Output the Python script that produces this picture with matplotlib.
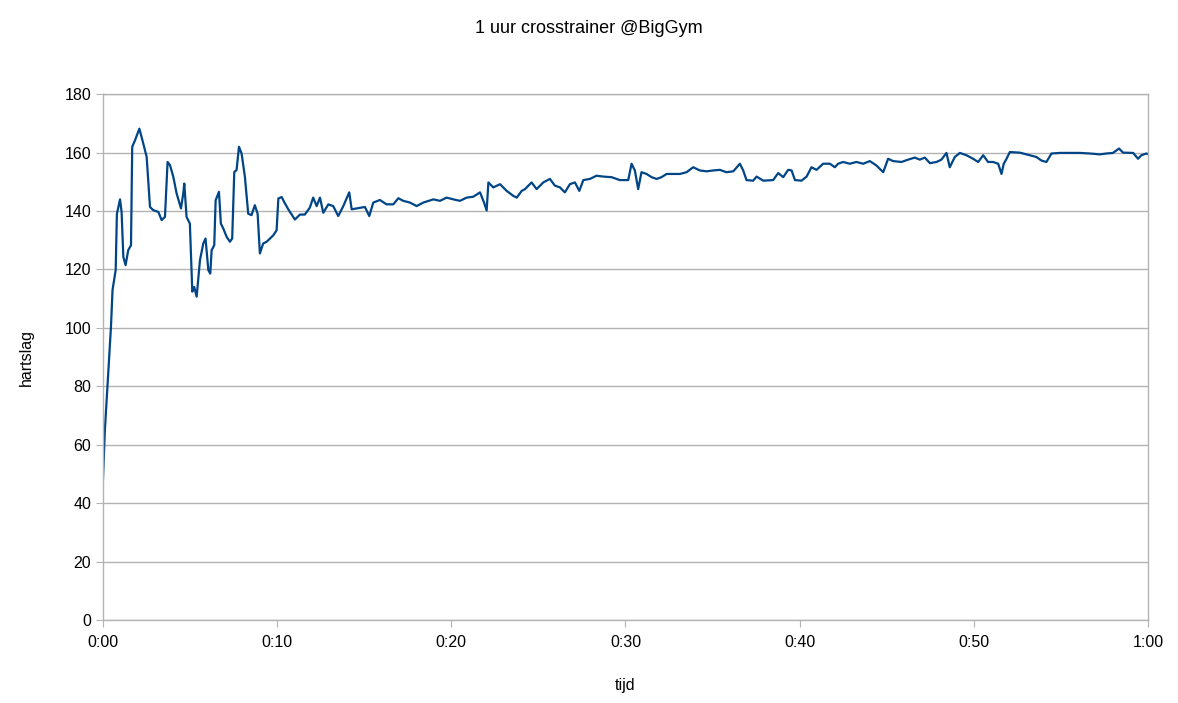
import matplotlib.pyplot as plt

# heart rate trace: time in minutes, beats per minute
minutes = [
    0.00, 0.11, 0.31, 0.46, 0.55, 0.73, 0.80, 0.98, 1.07, 1.17, 1.30, 1.45, 1.61,
    1.68, 1.84, 2.09, 2.32, 2.51, 2.70, 2.89, 3.18, 3.37, 3.56, 3.71, 3.85, 4.04,
    4.23, 4.48, 4.61, 4.67, 4.80, 4.99, 5.13, 5.24, 5.38, 5.57, 5.76, 5.89, 6.05,
    6.16, 6.24, 6.39, 6.47, 6.66, 6.77, 6.91, 7.10, 7.29, 7.42, 7.54, 7.67, 7.81,
    7.96, 8.15, 8.34, 8.53, 8.72, 8.88, 9.01, 9.20, 9.40, 9.59, 9.78, 9.97, 10.07,
    10.26, 10.45, 10.64, 11.02, 11.31, 11.59, 11.88, 12.07, 12.27, 12.46, 12.65,
    12.94, 13.22, 13.51, 13.80, 14.14, 14.28, 14.56, 15.04, 15.29, 15.52, 15.90,
    16.28, 16.67, 16.96, 17.24, 17.63, 18.01, 18.39, 18.97, 19.35, 19.73, 20.12,
    20.50, 20.88, 21.26, 21.65, 21.88, 22.03, 22.13, 22.41, 22.80, 23.18, 23.56,
    23.76, 24.04, 24.23, 24.61, 24.90, 25.28, 25.66, 25.95, 26.24, 26.52, 26.81,
    27.10, 27.35, 27.58, 27.96, 28.34, 28.72, 29.20, 29.68, 30.16, 30.35, 30.54,
    30.73, 30.92, 31.21, 31.50, 31.79, 32.07, 32.36, 32.74, 33.13, 33.51, 33.89,
    34.27, 34.66, 35.04, 35.42, 35.80, 36.19, 36.57, 36.76, 36.95, 37.33, 37.53,
    37.91, 38.48, 38.77, 39.06, 39.34, 39.54, 39.73, 40.11, 40.40, 40.68, 40.97,
    41.35, 41.74, 42.02, 42.21, 42.50, 42.88, 43.26, 43.65, 44.03, 44.41, 44.80,
    45.08, 45.37, 45.85, 46.23, 46.61, 46.90, 47.19, 47.48, 47.86, 48.14, 48.43,
    48.62, 48.91, 49.20, 49.58, 49.96, 50.25, 50.54, 50.82, 51.11, 51.40, 51.59,
    51.72, 51.88, 52.07, 52.64, 53.22, 53.60, 53.88, 54.17, 54.46, 54.94, 55.51,
    56.09, 56.66, 57.23, 57.62, 57.99, 58.34, 58.57, 59.15, 59.43, 59.62, 59.91,
    60.00,
]
hartslag = [
    48, 65, 85.6, 100.4, 113, 119.8, 139, 144, 139.7, 124.3, 121.5, 126.6, 128.3,
    162, 164.2, 168.2, 163, 158.5, 141.4, 140.3, 139.7, 136.9, 138, 156.8, 155.7,
    151.7, 146, 140.9, 146, 149.4, 138, 135.7, 112.4, 114, 110.7, 123.2, 128.9,
    130.6, 119.8, 118.6, 126.6, 128.3, 143.7, 146.6, 135.7, 134, 131.2, 129.5,
    130.6, 153.4, 154, 162, 159.7, 151.7, 139.1, 138.6, 142, 139.1, 125.5, 128.9,
    129.5, 130.6, 131.7, 133.4, 144.3, 144.8, 142.6, 140.6, 137.1, 138.8, 138.8,
    141.2, 144.6, 141.7, 144.6, 139.4, 142.3, 141.7, 138.3, 141.7, 146.4, 140.6,
    140.9, 141.4, 138.3, 142.9, 143.8, 142.3, 142.3, 144.4, 143.5, 142.9, 141.7,
    142.9, 144.0, 143.5, 144.6, 144.0, 143.5, 144.6, 144.9, 146.4, 142.9, 140.2,
    149.8, 148.1, 149.2, 146.9, 145.2, 144.6, 146.9, 147.5, 149.8, 147.5, 149.8,
    151.0, 148.7, 148.1, 146.4, 149.2, 149.8, 146.9, 150.6, 151.0, 152.1, 151.8,
    151.6, 150.6, 150.6, 156.2, 153.9, 147.5, 153.3, 152.7, 151.6, 151.0, 151.6,
    152.7, 152.7, 152.7, 153.3, 155.0, 153.9, 153.6, 153.9, 154.1, 153.3, 153.6,
    156.2, 153.9, 150.6, 150.4, 151.8, 150.4, 150.6, 153.0, 151.6, 154.1, 153.9,
    150.6, 150.4, 151.8, 155.0, 154.1, 156.2, 156.2, 155.0, 156.2, 156.8, 156.2,
    156.8, 156.2, 157.1, 155.6, 153.3, 157.9, 157.1, 156.8, 157.6, 158.3, 157.6,
    158.3, 156.4, 156.8, 157.6, 159.9, 155.0, 158.5, 159.9, 159.1, 157.9, 156.8,
    159.1, 156.8, 156.8, 156.2, 152.7, 156.2, 157.9, 160.2, 160.0, 159.1, 158.5,
    157.3, 156.8, 159.7, 159.9, 159.9, 159.9, 159.7, 159.4, 159.7, 159.9, 161.4,
    160.0, 159.9, 157.9, 159.1, 159.7, 159.5,
]
x_ticks = [0, 10, 20, 30, 40, 50, 60]
x_labels = ["0:00", "0:10", "0:20", "0:30", "0:40", "0:50", "1:00"]
y_ticks = list(range(0, 181, 20))

plt.rcParams['font.family'] = ['Liberation Sans', 'DejaVu Sans']

fig = plt.figure(figsize=(11.78, 7.03), dpi=100)
ax = fig.add_axes([0.0874, 0.118, 0.8871, 0.748])

ax.plot(minutes, hartslag, color='#004586', linewidth=1.6)

ax.set_xlim(0, 60)
ax.set_ylim(0, 180)
ax.set_xticks(x_ticks)
ax.set_xticklabels(x_labels)
ax.set_yticks(y_ticks)

ax.grid(axis='y', color='#b3b3b3', linewidth=1)
ax.set_axisbelow(True)
for side in ['left', 'bottom', 'right', 'top']:
    ax.spines[side].set_color('#b3b3b3')
    ax.spines[side].set_linewidth(1)
ax.tick_params(colors='#b3b3b3', labelcolor='black', labelsize=11.5, length=5)
ax.tick_params(axis='x', pad=6)

ax.set_xlabel("tijd", fontsize=11.5, labelpad=20)
ax.set_ylabel("hartslag", fontsize=11.5, labelpad=22)
fig.suptitle("1 uur crosstrainer @BigGym", fontsize=13, y=0.972)

plt.savefig("out.png", dpi=100)
plt.close()
